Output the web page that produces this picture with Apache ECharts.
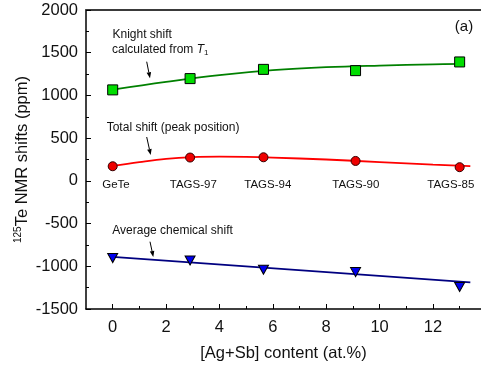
<!DOCTYPE html>
<html>
<head>
<meta charset="utf-8">
<script src="https://cdn.jsdelivr.net/npm/echarts@6/dist/echarts.min.js"></script>
<style>
  html, body { margin: 0; padding: 0; background: #fff; }
  #chart { width: 481px; height: 367px; }
</style>
</head>
<body>
<div id="chart"></div>
<script>
// [Ag+Sb] content (at.%) of each composition
const content = [0, 2.9, 5.65, 9.1, 13.0];
const sampleNames = ['GeTe', 'TAGS-97', 'TAGS-94', 'TAGS-90', 'TAGS-85'];

// Measured shifts (ppm)
const knightShift = [1065, 1197, 1305, 1290, 1392];
const totalShift = [171, 273, 276, 233, 160];
const chemicalShift = [-904, -932, -1041, -1068, -1242];

// Fitted curves through the measured points: [content, ppm]
const knightFit = [[0, 1068], [2, 1158], [4, 1238], [6, 1296], [8, 1331], [10, 1350], [12, 1363], [13.2, 1370]];
const totalFit = [[0, 175], [1, 220], [2, 258], [3, 278], [4, 283], [5, 280], [6, 272], [8, 250], [10, 220], [12, 190], [13.4, 172]];
const chemicalFit = [[0, -890], [13.4, -1189]];

// Axis ticks
const xMajorTicks = [0, 2, 4, 6, 8, 10, 12];
const xMinorTicks = [1, 3, 5, 7, 9, 11, 13];

const FONT = 'Liberation Sans, Arial, Helvetica, sans-serif';
const pair = (xs, ys) => xs.map((x, i) => [x, ys[i]]);

const chart = echarts.init(document.getElementById('chart'), null, { renderer: 'canvas' });

const axisCommon = { type: 'value', min: -1, max: 13.8, gridIndex: 0 };

// small arrow pointing from a label to its curve
function arrow(x1, y1, x2, y2) {
  const dx = x2 - x1, dy = y2 - y1;
  const len = Math.hypot(dx, dy);
  const ux = dx / len, uy = dy / len;
  const hl = 6, hw = 2.3;
  const bx = x2 - ux * hl, by = y2 - uy * hl;
  return [
    { type: 'line', shape: { x1: x1, y1: y1, x2: bx, y2: by }, style: { stroke: '#000', lineWidth: 1 }, z: 10 },
    { type: 'polygon', shape: { points: [[x2, y2], [bx - uy * hw, by + ux * hw], [bx + uy * hw, by - ux * hw]] }, style: { fill: '#000' }, z: 10 }
  ];
}

const labelPos = [[116, 184.5], [193.3, 184.5], [267.8, 185], [355.8, 185], [450.8, 185]];

const graphics = [
  { type: 'text', left: 112.5, top: 29, style: { text: 'Knight shift', font: '12px ' + FONT, fill: '#111' } },
  {
    type: 'text', left: 112, top: 44,
    style: {
      text: 'calculated from {it|T}{sub|1}', font: '12px ' + FONT, fill: '#111',
      rich: {
        it: { fontStyle: 'italic', fontSize: 12, fontFamily: FONT },
        sub: { fontSize: 8, fontFamily: FONT, verticalAlign: 'bottom', padding: [6, 0, 0, 0] }
      }
    }
  },
  { type: 'text', left: 106.7, top: 121.5, style: { text: 'Total shift (peak position)', font: '12px ' + FONT, fill: '#111' } },
  { type: 'text', left: 112.3, top: 225, style: { text: 'Average chemical shift', font: '12px ' + FONT, fill: '#111' } },
  { type: 'text', x: 464, y: 27, style: { text: '(a)', font: '15px ' + FONT, fill: '#111', textAlign: 'center', textVerticalAlign: 'middle' } },
  ...arrow(146.7, 61.7, 150, 78.3),
  ...arrow(146.7, 137, 150.7, 155),
  ...arrow(150, 241.7, 153.3, 257)
].concat(sampleNames.map((n, i) => ({
  type: 'text', x: labelPos[i][0], y: labelPos[i][1],
  style: { text: n, font: '11.5px ' + FONT, fill: '#111', textAlign: 'center', textVerticalAlign: 'middle' }
})));

chart.setOption({
  backgroundColor: '#fff',
  animation: false,
  grid: { left: 86, top: 10, right: 0, bottom: 58, containLabel: false },
  xAxis: [
    Object.assign({}, axisCommon, {
      position: 'bottom',
      name: '[Ag+Sb] content (at.%)',
      nameLocation: 'middle',
      nameGap: 36,
      nameMoveOverlap: false,
      nameTextStyle: { fontFamily: FONT, fontSize: 16.5, color: '#111' },
      axisLine: { show: true, onZero: false, lineStyle: { color: '#000', width: 1.5 } },
      axisTick: { show: true, inside: true, length: 5, customValues: xMajorTicks, lineStyle: { color: '#000', width: 1 } },
      axisLabel: { show: true, customValues: xMajorTicks, margin: 10, fontFamily: FONT, fontSize: 16.5, color: '#111' },
      splitLine: { show: false }
    }),
    Object.assign({}, axisCommon, {
      position: 'bottom',
      axisLine: { show: false, onZero: false },
      axisTick: { show: true, inside: true, length: 3, customValues: xMinorTicks, lineStyle: { color: '#000', width: 1 } },
      axisLabel: { show: false },
      splitLine: { show: false }
    }),
    Object.assign({}, axisCommon, {
      position: 'top',
      axisLine: { show: true, onZero: false, lineStyle: { color: '#3a3a3a', width: 2 } },
      axisTick: { show: false },
      axisLabel: { show: false },
      splitLine: { show: false }
    })
  ],
  yAxis: {
    type: 'value',
    min: -1500,
    max: 2000,
    interval: 500,
    name: '{sup|125}Te NMR shifts (ppm)',
    nameLocation: 'middle',
    nameRotate: 90,
    nameGap: 55,
    nameMoveOverlap: false,
    nameTextStyle: {
      fontFamily: FONT, fontSize: 16.5, color: '#111',
      rich: {
        sup: { fontFamily: FONT, fontSize: 10, color: '#111', verticalAlign: 'top', padding: [0, 0, 8, 0] }
      }
    },
    axisLine: { show: true, onZero: false, lineStyle: { color: '#000', width: 1.5 } },
    axisTick: { show: true, inside: true, length: 5, lineStyle: { color: '#000', width: 1 } },
    minorTick: { show: true, splitNumber: 2, length: 3, lineStyle: { color: '#000', width: 1 } },
    axisLabel: { margin: 8, fontFamily: FONT, fontSize: 16.5, color: '#111', formatter: v => String(v) },
    splitLine: { show: false },
    minorSplitLine: { show: false }
  },
  series: [
    {
      type: 'line', data: knightFit, smooth: 0.4, showSymbol: false, symbol: 'none',
      lineStyle: { color: '#008000', width: 1.8 }, z: 2
    },
    {
      type: 'line', data: totalFit, smooth: 0.4, showSymbol: false, symbol: 'none',
      lineStyle: { color: '#ff0000', width: 1.8 }, z: 2
    },
    {
      type: 'line', data: chemicalFit, smooth: false, showSymbol: false, symbol: 'none',
      lineStyle: { color: '#000080', width: 1.8 }, z: 2
    },
    {
      type: 'scatter', data: pair(content, knightShift), symbol: 'rect', symbolSize: 10,
      itemStyle: { color: '#00dd00', borderColor: '#000', borderWidth: 1, opacity: 1 }, z: 3
    },
    {
      type: 'scatter', data: pair(content, totalShift), symbol: 'circle', symbolSize: 9,
      itemStyle: { color: '#ee0000', borderColor: '#300', borderWidth: 1, opacity: 1 }, z: 3
    },
    {
      type: 'scatter', data: pair(content, chemicalShift), symbol: 'triangle', symbolRotate: 180, symbolSize: [10, 9],
      itemStyle: { color: '#0000ee', borderColor: '#000', borderWidth: 1, opacity: 1 }, z: 3
    }
  ],
  graphic: graphics
});
</script>
</body>
</html>
